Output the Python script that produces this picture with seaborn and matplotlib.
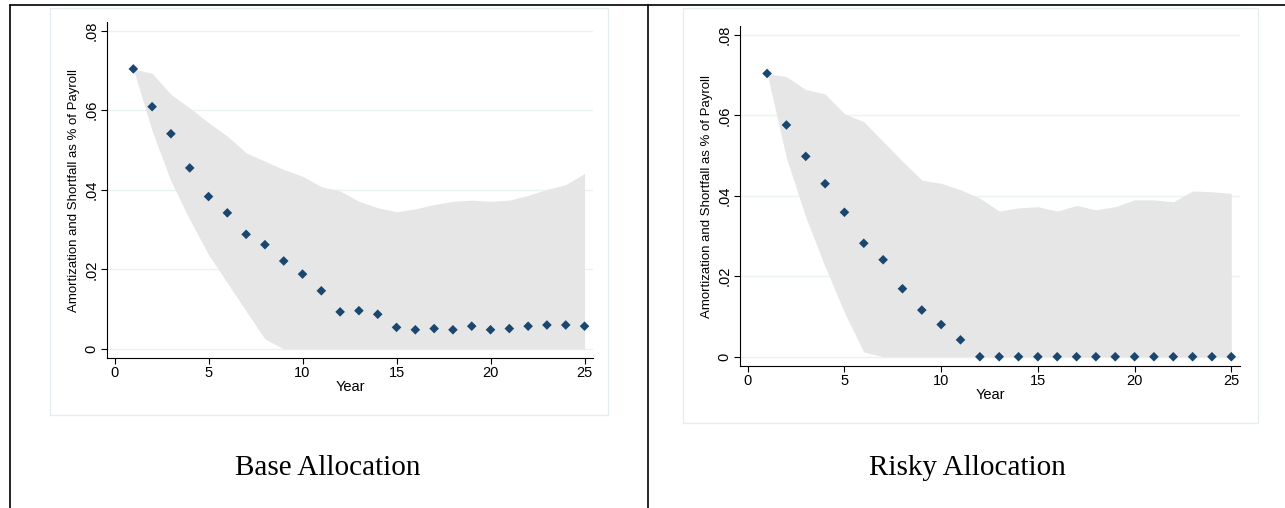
import numpy as np
import pandas as pd
import matplotlib
matplotlib.use("Agg")
import matplotlib.pyplot as plt
from matplotlib.lines import Line2D
from matplotlib.patches import Rectangle
import seaborn as sns

years = list(range(1, 26))
base_mean = [.0704, .0609, .0541, .0455, .0383, .0342, .0288, .0262, .0221, .0188, .0146, .0093, .0096,
             .0087, .0054, .0048, .0051, .0048, .0057, .0048, .0051, .0057, .0060, .0060, .0057]
base_upper = [.0704, .0693, .0640, .0606, .0569, .0535, .0493, .0472, .0451, .0434, .0408, .0397, .0371,
              .0355, .0345, .0352, .0363, .0371, .0374, .0371, .0374, .0386, .0401, .0413, .0441]
base_lower = [.0704, .0548, .0422, .0325, .0237, .0166, .0095, .0025, 0, 0, 0, 0, 0,
              0, 0, 0, 0, 0, 0, 0, 0, 0, 0, 0, 0]
risky_mean = [.0704, .0576, .0498, .0430, .0359, .0282, .0241, .0169, .0116, .0080, .0042, 0, 0,
              0, 0, 0, 0, 0, 0, 0, 0, 0, 0, 0, 0]
risky_upper = [.0704, .0696, .0664, .0653, .0604, .0584, .0535, .0486, .0439, .0431, .0415, .0394, .0362,
               .0370, .0373, .0362, .0376, .0365, .0373, .0390, .0390, .0385, .0412, .0410, .0406]
risky_lower = [.0704, .0494, .0347, .0224, .0110, .0012, 0, 0, 0, 0, 0, 0, 0,
               0, 0, 0, 0, 0, 0, 0, 0, 0, 0, 0, 0]
titles = ["Base Allocation", "Risky Allocation"]
ylabel = "Amortization and Shortfall as % of Payroll"
xlabel = "Year"
yticks = [0, .02, .04, .06, .08]
ytick_labels = ["0", ".02", ".04", ".06", ".08"]
xticks = [0, 5, 10, 15, 20, 25]

sns.set_theme(style="white")
plt.rcParams['font.family'] = ['Liberation Sans', 'DejaVu Sans']
plt.rcParams['text.color'] = 'black'
plt.rcParams['axes.labelcolor'] = 'black'
plt.rcParams['xtick.color'] = 'black'
plt.rcParams['ytick.color'] = 'black'

W, H = 1285, 508
fig = plt.figure(figsize=(W / 100, H / 100), dpi=100)

def fx(px): return px / W
def fy(py): return 1 - py / H

fig.add_artist(Line2D([fx(10), fx(1285)], [fy(5), fy(5)], color='black', lw=1.2))
for xv in [10, 648]:
    fig.add_artist(Line2D([fx(xv), fx(xv)], [fy(5), fy(508)], color='black', lw=1.2))

for (x0, y0, x1, y1) in [(50, 8, 608, 415), (683, 8, 1258, 423)]:
    fig.add_artist(Rectangle((fx(x0), fy(y1)), fx(x1 - x0), (y1 - y0) / H, fill=False,
                             edgecolor='#e4eef0', lw=1))

axes_px = [(107, 22, 593, 358), (740, 26, 1240, 366)]
data = [(base_mean, base_upper, base_lower), (risky_mean, risky_upper, risky_lower)]
title_x = [328, 967]

for i, ((x0, y0, x1, y1), (m, u, l)) in enumerate(zip(axes_px, data)):
    ax = fig.add_axes([fx(x0), fy(y1), fx(x1 - x0), (y1 - y0) / H])
    ax.fill_between(years, l, u, color='#e6e6e6', lw=0, zorder=1)
    df = pd.DataFrame({"Year": years, "v": m})
    sns.scatterplot(data=df, x="Year", y="v", ax=ax, marker='D', s=24, color='#1a476f',
                    edgecolor='none', zorder=3)
    ax.set_xlim(-0.4, 25.45)
    ax.set_ylim(-0.0023, 0.0822)
    ax.set_yticks(yticks)
    ax.set_yticklabels(ytick_labels, rotation=90, va='center', fontsize=10.5)
    ax.set_xticks(xticks)
    ax.tick_params(axis='x', labelsize=10.5, length=4, width=0.8, direction='out', bottom=True, pad=2)
    ax.tick_params(axis='y', length=4, width=0.8, direction='out', left=True, pad=2)
    ax.grid(axis='y', color='#eaf2f3', lw=1)
    ax.grid(axis='x', visible=False)
    for s in ['top', 'right']:
        ax.spines[s].set_visible(False)
    for s in ['left', 'bottom']:
        ax.spines[s].set_color('black')
        ax.spines[s].set_linewidth(0.8)
    ax.set_xlabel(xlabel, fontsize=10.5, labelpad=0)
    ax.set_ylabel(ylabel, fontsize=9.5, labelpad=3)
    fig.text(fx(title_x[i]), fy(468), titles[i], ha='center', va='center',
             fontsize=21, family=['Liberation Serif', 'DejaVu Serif'])

fig.savefig("out.png", dpi=100)
